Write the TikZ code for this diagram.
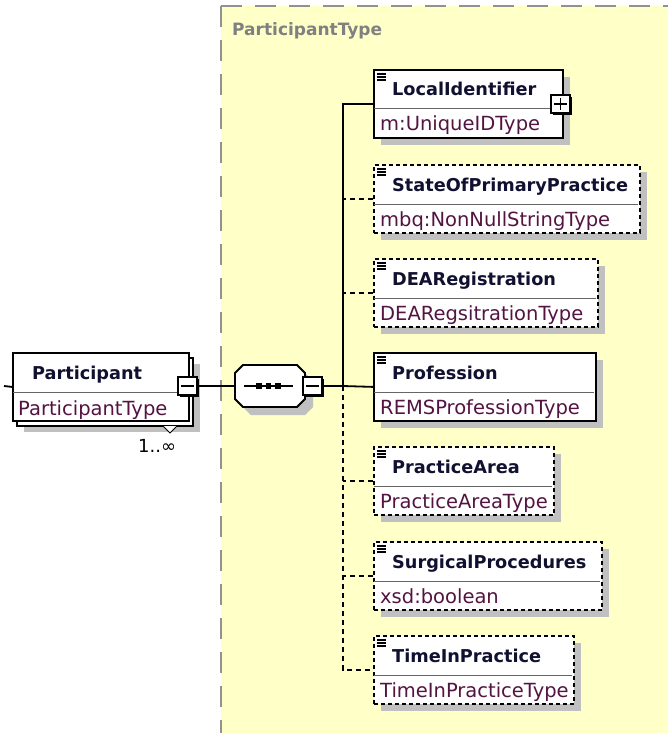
\documentclass[tikz,border=0pt]{standalone}
\usepackage{fontspec}
\setmainfont{DejaVu Sans}
\usetikzlibrary{shadows}
\definecolor{bgyellow}{RGB}{255,255,200}
\definecolor{shadowgray}{RGB}{192,192,192}
\definecolor{namecol}{RGB}{16,16,48}
\definecolor{typecol}{RGB}{84,20,66}
\definecolor{framegray}{RGB}{145,145,145}
\definecolor{labelgray}{RGB}{128,128,128}
\tikzset{
  elbox/.style={rectangle, draw=black, fill=white, line width=1.8pt, minimum width=#1, minimum height=68pt, inner sep=0pt, anchor=north west},
  optbox/.style={elbox=#1, dash pattern=on 4pt off 3pt},
  divline/.style={draw=black!60, line width=1pt},
  nametext/.style={font=\fontsize{17.7}{20}\selectfont\bfseries, text=namecol, inner sep=0pt, anchor=base west},
  typetext/.style={font=\fontsize{19.5}{22}\selectfont, text=typecol, inner sep=0pt, anchor=base west},
  conn/.style={draw=black, line width=1.8pt},
  optconn/.style={conn, dash pattern=on 5pt off 4pt},
  togglebox/.style={rectangle, draw=black, fill=white, line width=1.5pt, minimum width=19pt, minimum height=18pt, inner sep=0pt,
    drop shadow={shadow xshift=2.4pt, shadow yshift=-2.4pt, fill=black, opacity=1}},
}
\newcommand\xelem[7]{%
  \fill[shadowgray] (#2+8,#3+8) rectangle ++(#4,68);
  \node[#5=#4pt] (#1) at (#2,#3) {};
  \draw[divline] (#2+1,#3+40) -- ++(#4-2,0);
  \foreach \k in {5,8,11} \draw[line width=1.1pt] (#2+4,#3+\k) -- ++(9,0);
  \node[nametext] (#1-n) at (#2+19,#3+27) {#6};
  \node[typetext] (#1-t) at (#2+7,#3+62) {#7};
}
\begin{document}
\begin{tikzpicture}[x=1pt,y=-1pt]
\useasboundingbox (0,0) rectangle (668,733);
% complex type area
\fill[bgyellow] (221,6) rectangle (668,733);
\draw[framegray, line width=2.2pt, dash pattern=on 21pt off 13pt] (221,6) -- (668,6);
\draw[framegray, line width=2.2pt, dash pattern=on 21pt off 13pt] (221,6) -- (221,733);
\node[font=\fontsize{17}{20}\selectfont\bfseries, text=labelgray, inner sep=0pt, anchor=base west] (ctlabel) at (232,36) {ParticipantType};

% Participant stack
\fill[shadowgray] (24,364) rectangle (200,432);
\draw[fill=white, line width=1.8pt] (17,358) rectangle (193,426);
\node[elbox=176pt] (part) at (12,352) {};
\draw[divline] (13,392) -- (187,392);
\node[nametext] (part-n) at (32,379) {Participant};
\node[typetext] (part-t) at (18,415) {ParticipantType};
\draw[line width=1pt, fill=white] (163,426) -- (170,433) -- (177,426);
\node[font=\fontsize{18}{20}\selectfont, inner sep=0pt, anchor=base west] (mult) at (138,452) {1..∞};
\node[togglebox] (partminus) at (187.5,386) {};
\draw[line width=1.4pt] ([xshift=4pt]partminus.west) -- ([xshift=-4pt]partminus.east);
\coordinate (partin) at (4,386);

% sequence compositor
\fill[shadowgray, shift={(8,8)}] (235,373) -- (243,365) -- (297,365) -- (305,373) -- (305,399) -- (297,407) -- (243,407) -- (235,399) -- cycle;
\draw[line width=1.8pt, fill=white] (235,373) -- (243,365) -- (297,365) -- (305,373) -- (305,399) -- (297,407) -- (243,407) -- (235,399) -- cycle;
\coordinate (seqW) at (235,386);
\coordinate (seqL) at (244,386);
\coordinate (seqR) at (293,386);
\draw[line width=1.5pt] (seqL) -- (seqR);
\foreach \cx in {259,268.5,278} \fill (\cx-2.8,383.2) rectangle ++(5.6,5.6);
\node[togglebox] (seqminus) at (312.5,386) {};
\draw[line width=1.4pt] ([xshift=4pt]seqminus.west) -- ([xshift=-4pt]seqminus.east);
\coordinate (join) at (343,386);

% child elements
\xelem{locid}{373}{69}{189}{elbox}{LocalIdentifier}{m:UniqueIDType}
\xelem{state}{373}{164}{266}{optbox}{StateOfPrimaryPractice}{mbq:NonNullStringType}
\xelem{dea}{373}{258}{224}{optbox}{DEARegistration}{DEARegsitrationType}
\xelem{prof}{373}{352}{222}{elbox}{Profession}{REMSProfessionType}
\xelem{area}{373}{446}{180}{optbox}{PracticeArea}{PracticeAreaType}
\xelem{surg}{373}{541}{228}{optbox}{SurgicalProcedures}{xsd:boolean}
\xelem{tip}{373}{635}{200}{optbox}{TimeInPractice}{TimeInPracticeType}

% expand box on LocalIdentifier
\node[togglebox] (locplus) at (560.5,104) {};
\draw[line width=1.4pt] ([xshift=4pt]locplus.west) -- ([xshift=-4pt]locplus.east);
\draw[line width=1.4pt] ([yshift=-4pt]locplus.north) -- ([yshift=4pt]locplus.south);

% connectors
\draw[conn] (partin) -- (part.west);
\draw[conn] (partminus.east) -- (seqW);
\draw[conn] (seqminus.east) -- (join) -- (prof.west);
\draw[conn] (join) |- (locid.west);
\draw[optconn] (join) |- (tip.west);
\draw[optconn] (state.west) -- (state.west -| join);
\draw[optconn] (dea.west) -- (dea.west -| join);
\draw[optconn] (area.west) -- (area.west -| join);
\draw[optconn] (surg.west) -- (surg.west -| join);
\end{tikzpicture}
\end{document}
